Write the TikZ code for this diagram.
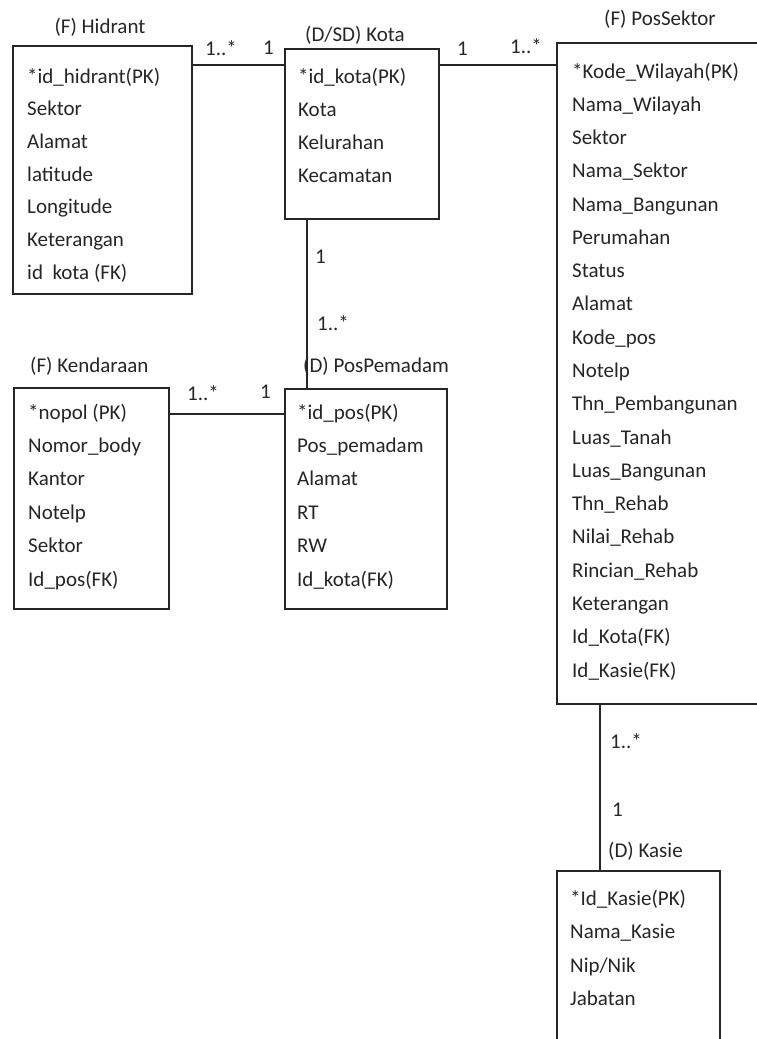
\documentclass[tikz,border=0pt]{standalone}
\usepackage{fontspec}
\setmainfont{Carlito}
\begin{document}
\begin{tikzpicture}[x=1pt,y=-1pt,
  entity/.style={draw=black!85,line width=1.7pt,rectangle,anchor=north west,inner sep=0pt},
  attr/.style={anchor=base west,inner sep=0pt,text=black!85,font=\fontsize{21}{25}\selectfont},
  ttl/.style={anchor=base west,inner sep=0pt,text=black!85,font=\fontsize{21}{25}\selectfont},
  mult/.style={anchor=base west,inner sep=0pt,text=black!85,font=\fontsize{21}{25}\selectfont},
  link/.style={draw=black!85,line width=1.7pt}]
\useasboundingbox (0,0) rectangle (757,1039);
\fill[white] (0,0) rectangle (757,1039);
\clip (0,0) rectangle (757,1039);

% entity boxes
\node[entity,minimum width=179pt,minimum height=248pt] (hidrant) at (12,45) {};
\node[entity,minimum width=154pt,minimum height=170pt] (kota) at (284,48) {};
\node[entity,minimum width=204pt,minimum height=661pt] (possektor) at (556,42) {};
\node[entity,minimum width=162pt,minimum height=220pt] (pospemadam) at (284,388) {};
\node[entity,minimum width=155pt,minimum height=221pt] (kendaraan) at (13,387) {};
\node[entity,minimum width=163pt,minimum height=220pt] (kasie) at (556,870) {};

% titles
\node[ttl,anchor=base] (t-hid) at (100,33) {(F) Hidrant};
\node[ttl] (t-kota) at (305,41) {(D/SD) Kota};
\node[ttl,anchor=base] (t-ps) at (660,25) {(F) PosSektor};
\node[ttl] (t-pp) at (303,372) {(D) PosPemadam};
\node[ttl] (t-ken) at (30,372) {(F) Kendaraan};
\node[ttl] (t-kas) at (608,857) {(D) Kasie};

% attributes
\foreach \t [count=\i from 0] in {*id\_hidrant(PK),Sektor,Alamat,latitude,Longitude,Keterangan,id\ \ kota (FK)}
  \node[attr] (hid-\i) at (27,83+\i*32.7) {\t};
\foreach \t [count=\i from 0] in {*id\_kota(PK),Kota,Kelurahan,Kecamatan}
  \node[attr] (kot-\i) at (298,83+\i*33) {\t};
\foreach \t [count=\i from 0] in {*Kode\_Wilayah(PK),Nama\_Wilayah,Sektor,Nama\_Sektor,Nama\_Bangunan,Perumahan,Status,Alamat,Kode\_pos,Notelp,Thn\_Pembangunan,Luas\_Tanah,Luas\_Bangunan,Thn\_Rehab,Nilai\_Rehab,Rincian\_Rehab,Keterangan,Id\_Kota(FK),Id\_Kasie(FK)}
  \node[attr] (ps-\i) at (572,78+\i*33.28) {\t};
\foreach \t [count=\i from 0] in {*id\_pos(PK),Pos\_pemadam,Alamat,RT,RW,Id\_kota(FK)}
  \node[attr] (pp-\i) at (297,419+\i*33.4) {\t};
\foreach \t [count=\i from 0] in {*nopol (PK),Nomor\_body,Kantor,Notelp,Sektor,Id\_pos(FK)}
  \node[attr] (ken-\i) at (28,419+\i*33.4) {\t};
\foreach \t [count=\i from 0] in {*Id\_Kasie(PK),Nama\_Kasie,Nip/Nik,Jabatan}
  \node[attr] (kas-\i) at (570,905+\i*33.6) {\t};

% connectors
\coordinate (r1) at (0,65);
\coordinate (r4) at (0,414);
\coordinate (c3) at (307,0);
\coordinate (c5) at (600,0);
\draw[link] (hidrant.east |- r1) -- (kota.west |- r1);
\draw[link] (kota.east |- r1) -- (possektor.west |- r1);
\draw[link] (kota.south -| c3) -- (pospemadam.north -| c3);
\draw[link] (kendaraan.east |- r4) -- (pospemadam.west |- r4);
\draw[link] (possektor.south -| c5) -- (kasie.north -| c5);

% multiplicities
\node[mult] (m1a) at (205,55) {1..*};
\node[mult] (m1b) at (263,54) {1};
\node[mult] (m2a) at (457,55) {1};
\node[mult] (m2b) at (510,53) {1..*};
\node[mult] (m3a) at (315,263) {1};
\node[mult] (m3b) at (317,330) {1..*};
\node[mult] (m4a) at (187,400) {1..*};
\node[mult] (m4b) at (260,398) {1};
\node[mult] (m5a) at (610,748) {1..*};
\node[mult] (m5b) at (612,816) {1};
\end{tikzpicture}
\end{document}
